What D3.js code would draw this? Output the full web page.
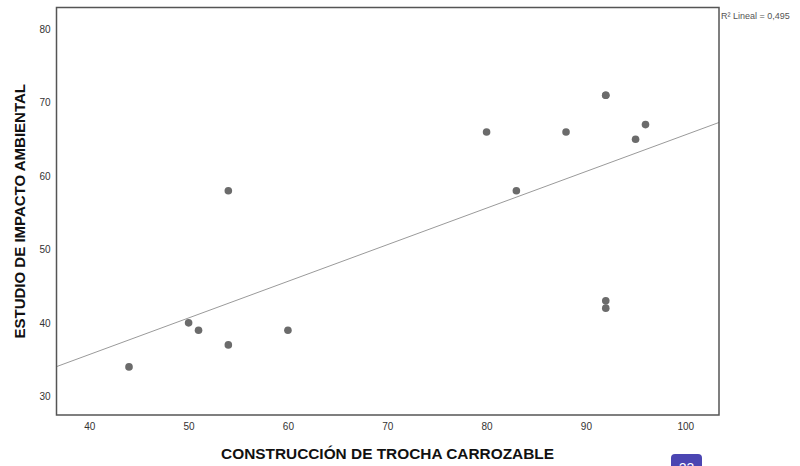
<!DOCTYPE html>
<html>
<head>
<meta charset="utf-8">
<script src="https://cdn.jsdelivr.net/npm/d3@7"></script>
<style>
  html, body { margin: 0; padding: 0; background: #fff; }
  svg { display: block; }
</style>
</head>
<body>
<svg id="chart" width="800" height="466"></svg>
<script>
// Construcción de trocha carrozable (x) vs. estudio de impacto ambiental (y)
// (two cases share the point 92 / 71)
const trocha = [44, 50, 51, 54, 54, 60, 80, 83, 88, 92, 92, 92, 92, 95, 96];
const impacto = [34, 40, 39, 37, 58, 39, 66, 58, 66, 71, 71, 43, 42, 65, 67];
const xTicks = [40, 50, 60, 70, 80, 90, 100];
const yTicks = [30, 40, 50, 60, 70, 80];
const r2Label = "R² Lineal = 0,495";

const svg = d3.select("#chart");
const frame = { left: 56.5, top: 7.5, right: 719, bottom: 415 };

const x = d3.scaleLinear().domain([36.7, 103.4]).range([frame.left, frame.right]);
const y = d3.scaleLinear().domain([27.45, 82.95]).range([frame.bottom, frame.top]);

// least-squares fit line
const mx = d3.mean(trocha), my = d3.mean(impacto);
let sxy = 0, sxx = 0;
trocha.forEach((v, i) => { sxy += (v - mx) * (impacto[i] - my); sxx += (v - mx) * (v - mx); });
const slope = sxy / sxx, intercept = my - slope * mx;
const fit = x.domain().map(v => [v, intercept + slope * v]);

svg.append("clipPath").attr("id", "plot")
  .append("rect")
  .attr("x", frame.left).attr("y", frame.top)
  .attr("width", frame.right - frame.left).attr("height", frame.bottom - frame.top);

svg.append("path")
  .datum(fit)
  .attr("clip-path", "url(#plot)")
  .attr("d", d3.line().x(d => x(d[0])).y(d => y(d[1])))
  .attr("fill", "none")
  .attr("stroke", "#9a9a9a")
  .attr("stroke-width", 1);

svg.append("g")
  .selectAll("circle")
  .data(trocha.map((v, i) => [v, impacto[i]]))
  .join("circle")
  .attr("cx", d => x(d[0]))
  .attr("cy", d => y(d[1]))
  .attr("r", 3.8)
  .attr("fill", "#6b6b6b");

// axes: labels only, no tick marks
const xAxis = svg.append("g")
  .attr("transform", `translate(0,${frame.bottom})`)
  .call(d3.axisBottom(x).tickValues(xTicks).tickSize(0).tickPadding(8).tickFormat(d3.format("d")));
const yAxis = svg.append("g")
  .attr("transform", `translate(${frame.left},0)`)
  .call(d3.axisLeft(y).tickValues(yTicks).tickSize(0).tickPadding(6).tickFormat(d3.format("d")));
[xAxis, yAxis].forEach(g => {
  g.select(".domain").remove();
  g.selectAll("text")
    .attr("fill", "#333")
    .style("font-family", "'Liberation Sans', Arial, sans-serif")
    .style("font-size", "10px");
});

svg.append("rect")
  .attr("x", frame.left).attr("y", frame.top)
  .attr("width", frame.right - frame.left).attr("height", frame.bottom - frame.top)
  .attr("fill", "none")
  .attr("stroke", "#555")
  .attr("stroke-width", 1.5);

svg.append("text")
  .attr("x", frame.right + 2).attr("y", 19)
  .attr("fill", "#555")
  .style("font-family", "'Liberation Sans', Arial, sans-serif")
  .style("font-size", "9px")
  .text(r2Label);

svg.append("text")
  .attr("x", 387.5).attr("y", 459)
  .attr("text-anchor", "middle")
  .attr("fill", "#111")
  .style("font-family", "'Liberation Sans', Arial, sans-serif")
  .style("font-weight", "bold")
  .style("font-size", "15.4px")
  .text("CONSTRUCCIÓN DE TROCHA CARROZABLE");

svg.append("text")
  .attr("transform", `translate(25,${(frame.top + frame.bottom) / 2}) rotate(-90)`)
  .attr("text-anchor", "middle")
  .attr("fill", "#111")
  .style("font-family", "'Liberation Sans', Arial, sans-serif")
  .style("font-weight", "bold")
  .style("font-size", "15px")
  .text("ESTUDIO DE IMPACTO AMBIENTAL");

// page number badge
const badge = svg.append("g").attr("transform", "translate(671,454)");
badge.append("rect")
  .attr("width", 31).attr("height", 22).attr("rx", 4)
  .attr("fill", "#4b45b2");
badge.append("text")
  .attr("x", 15.5).attr("y", 19)
  .attr("text-anchor", "middle")
  .attr("fill", "#fff")
  .style("font-family", "'Liberation Sans', Arial, sans-serif")
  .style("font-size", "14px")
  .text("23");
</script>
</body>
</html>
